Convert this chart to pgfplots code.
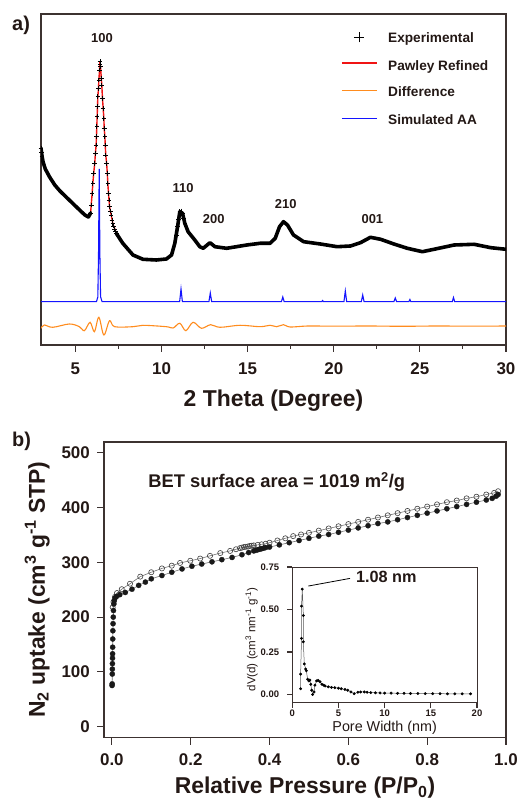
\documentclass[border=0pt]{standalone}
\usepackage{fontspec}
\setmainfont{Liberation Sans}
\usepackage{pgfplots}
\pgfplotsset{compat=1.18}
\definecolor{txt}{RGB}{35,24,21}
\definecolor{axc}{RGB}{60,50,48}
\definecolor{dorange}{RGB}{255,140,30}
\definecolor{sblue}{RGB}{20,20,255}
\definecolor{pred}{RGB}{240,20,20}
\pgfplotsset{
  /pgf/number format/assume math mode=true,
  every axis/.append style={
    axis line style={draw=axc, line width=1.2bp},
    every tick/.style={draw=axc, line width=1.1bp},
    tick align=outside,
  }
}
\begin{document}
\begin{tikzpicture}
\useasboundingbox (0bp,0bp) rectangle (518bp,800bp);
\node[anchor=base west, inner sep=0pt, font=\bfseries\fontsize{20}{20}\selectfont, text=txt] at (12bp,769bp) {a)};
\node[anchor=base west, inner sep=0pt, font=\bfseries\fontsize{20}{20}\selectfont, text=txt] at (12bp,353bp) {b)};

% ---------------- panel a ----------------
\begin{axis}[
  at={(41bp,455bp)}, anchor=south west, scale only axis,
  width=465bp, height=331bp,
  xmin=3, xmax=30, ymin=0, ymax=331,
  xtick={5,10,15,20,25,30}, minor x tick num=1, ytick=\empty,
  xtick pos=bottom,
  major tick length=7bp, minor tick length=4bp,
  xticklabel style={anchor=base, yshift=-23bp, inner sep=0pt, font=\bfseries\fontsize{17}{17}\selectfont, text=txt},
  xlabel={2 Theta (Degree)},
  xlabel style={at={(axis description cs:0.5,-0.1873)}, anchor=base, inner sep=0pt, font=\bfseries\fontsize{23}{23}\selectfont, text=txt},
]
% Pawley refined (red)
\addplot[pred, line width=1.4bp] coordinates {
(3.00,197)(3.05,190)(3.12,183)(3.25,176)(3.50,168)(3.80,160)(4.10,154)(4.40,149)(4.70,144)(5.00,139)(5.30,134)(5.55,130)(5.75,128)(5.88,132)
(5.97,151.7)(6.01,161.7)(6.06,171.7)(6.12,181.7)(6.16,191.7)(6.20,200)(6.22,208.3)(6.24,218.3)(6.26,228.3)(6.28,238.3)(6.30,248.3)(6.34,256.7)(6.36,265)(6.40,275)(6.42,283.3)
(6.46,278.3)(6.50,266.7)(6.53,260)(6.57,246.7)(6.61,236.7)(6.65,226.7)(6.67,216.7)(6.71,208.3)(6.73,200)(6.76,190)(6.81,181.7)(6.85,171.7)(6.88,161.7)(6.92,151.7)
(6.98,138.3)(7.17,121.7)(7.37,111.7)(7.75,101.7)(8.34,90)(8.92,85.7)(9.70,85)(10.28,86)(10.58,90)(10.77,101.7)(10.93,118.3)(11.06,133.3)(11.22,131.7)(11.35,121.7)(11.54,113.3)(11.93,105)(12.22,98.3)(12.42,96.7)(12.81,102.3)(13.10,98.3)(13.78,96.7)(14.95,100)(15.72,101.7)(16.30,101.7)(16.60,106.7)(16.85,118.3)(17.08,123.3)(17.31,120)(17.66,110)(18.25,103.3)(19.22,101)(20.19,98.3)(20.97,99)(21.55,102.3)(22.13,107.7)(22.72,105.7)(23.49,101)(24.27,96.7)(25.14,93.3)(25.82,95.7)(26.99,100)(28.15,100.7)(29.12,97.3)(30.00,95.7)
};
% Experimental: dense band
\addplot[black, line width=3.6bp, line join=round, line cap=round] coordinates {
(3.00,197)(3.05,190)(3.12,183)(3.25,176)(3.50,168)(3.80,160)(4.10,154)(4.40,149)(4.70,144)(5.00,139)(5.30,134)(5.55,130)(5.75,128)(5.88,132)
};
\addplot[black, line width=3.6bp, line join=round, line cap=round] coordinates {
(7.37,111.7)(7.75,101.7)(8.34,90)(8.92,85.7)(9.70,85)(10.28,86)(10.58,90)(10.77,101.7)(10.93,118.3)(11.06,133.3)(11.22,131.7)(11.35,121.7)(11.54,113.3)(11.93,105)(12.22,98.3)(12.42,96.7)(12.81,102.3)(13.10,98.3)(13.78,96.7)(14.95,100)(15.72,101.7)(16.30,101.7)(16.60,106.7)(16.85,118.3)(17.08,123.3)(17.31,120)(17.66,110)(18.25,103.3)(19.22,101)(20.19,98.3)(20.97,99)(21.55,102.3)(22.13,107.7)(22.72,105.7)(23.49,101)(24.27,96.7)(25.14,93.3)(25.82,95.7)(26.99,100)(28.15,100.7)(29.12,97.3)(30.00,95.7)
};
% Experimental: crosses on the 100 peak
\addplot[black, only marks, mark=+, mark size=2.3bp, mark options={line width=0.8bp}] coordinates {
(3.00,197)(3.03,193)(3.06,189)(5.88,132)(5.93,140)
(5.97,151.7)(6.01,161.7)(6.06,171.7)(6.12,181.7)(6.16,191.7)(6.20,200)(6.22,208.3)(6.24,218.3)(6.26,228.3)(6.28,238.3)(6.30,248.3)(6.34,256.7)(6.36,265)(6.40,275)(6.42,283.3)(6.43,281)
(6.46,278.3)(6.50,266.7)(6.53,260)(6.57,246.7)(6.61,236.7)(6.65,226.7)(6.67,216.7)(6.71,208.3)(6.73,200)(6.76,190)(6.81,181.7)(6.85,171.7)(6.88,161.7)(6.92,151.7)
(6.95,145)(6.98,138.3)(7.02,134)(7.07,130)(7.12,125)(7.17,121.7)(7.22,119)(7.27,116)(7.32,114)(7.37,111.7)
(10.86,110)(10.93,118.3)(10.99,126)(11.06,133.3)(11.14,134)(11.22,131.7)(11.28,127)(11.35,121.7)
};
% Difference (orange)
\addplot[dorange, line width=1.1bp, smooth, tension=0.55] coordinates {
(3.00,16.7)(3.19,20)(3.68,17.7)(4.65,21)(5.23,18.3)(5.52,14.3)(5.85,22.7)(6.10,13.3)(6.36,27.7)(6.65,10)(6.98,24.3)(7.27,18.3)(8.34,18.3)(8.92,19.7)(10.28,18.3)(10.67,17)(11.06,21.7)(11.41,14.3)(11.83,22.7)(12.32,16.7)(12.85,20.3)(13.39,17.7)(14.56,19.7)(15.72,18.3)(16.30,19.7)(16.69,18.3)(17.08,20.3)(17.47,18)(18.5,19)(20,18.8)(22,19)(24,18.7)(26,19)(28,18.8)(30,19)
};
% Simulated AA (blue)
\addplot[sblue, line width=1.1bp] coordinates {
(3,43.3)(6.22,43.3)(6.30,48)(6.34,90)(6.38,176)(6.42,90)(6.46,48)(6.55,43.3)
(11.05,43.3)(11.13,56)(11.21,43.3)(12.75,43.3)(12.83,52)(12.91,43.3)(16.96,43.3)(17.04,48)(17.12,43.3)
(19.3,43.3)(19.35,44.5)(19.4,43.3)(20.59,43.3)(20.67,54)(20.75,43.3)(21.60,43.3)(21.68,50)(21.76,43.3)
(23.49,43.3)(23.57,47)(23.65,43.3)(24.36,43.3)(24.42,45.5)(24.48,43.3)(26.88,43.3)(26.95,47.5)(27.02,43.3)(30,43.3)
};
% legend (drawn by hand)
\draw[black, line width=0.9bp] (axis description cs:0.6731,0.9295) -- (axis description cs:0.6946,0.9295)
  (axis description cs:0.6839,0.9144) -- (axis description cs:0.6839,0.9446);
\draw[pred, line width=1.5bp] (axis description cs:0.6473,0.8514) -- (axis description cs:0.7226,0.8514);
\draw[dorange, line width=1.5bp] (axis description cs:0.6473,0.7683) -- (axis description cs:0.7226,0.7683);
\draw[sblue, line width=1.5bp] (axis description cs:0.6473,0.6848) -- (axis description cs:0.7226,0.6848);
\begin{scope}[every node/.style={anchor=base west, inner sep=0pt, font=\bfseries\fontsize{13.7}{13.7}\selectfont, text=txt}]
\node at (axis description cs:0.7462,0.9144) {Experimental};
\node at (axis description cs:0.7462,0.8298) {Pawley Refined};
\node at (axis description cs:0.7462,0.7495) {Difference};
\node at (axis description cs:0.7462,0.6666) {Simulated AA};
\end{scope}
\node[font=\bfseries\fontsize{13}{13}\selectfont, text=txt] at (axis cs:6.54,307) {100};
\node[font=\bfseries\fontsize{13}{13}\selectfont, text=txt] at (axis cs:11.25,157) {110};
\node[font=\bfseries\fontsize{13}{13}\selectfont, text=txt] at (axis cs:13.03,126) {200};
\node[font=\bfseries\fontsize{13}{13}\selectfont, text=txt] at (axis cs:17.21,141) {210};
\node[font=\bfseries\fontsize{13}{13}\selectfont, text=txt] at (axis cs:22.24,126) {001};
\end{axis}

% ---------------- panel b ----------------
\begin{axis}[
  at={(104bp,62.5bp)}, anchor=south west, scale only axis,
  width=402bp, height=295.5bp,
  xmin=-0.02, xmax=1.0, ymin=-20, ymax=520,
  xtick={0,0.2,0.4,0.6,0.8,1.0}, ytick={0,100,200,300,400,500},
  xtick pos=bottom, ytick pos=left,
  major tick length=7bp,
  xticklabel style={anchor=base, yshift=-20.5bp, inner sep=0pt, font=\bfseries\fontsize{17}{17}\selectfont, text=txt,
    /pgf/number format/.cd, fixed, fixed zerofill, precision=1},
  yticklabel style={anchor=east, xshift=-7bp, inner sep=0pt, font=\bfseries\fontsize{17}{17}\selectfont, text=txt},
  xlabel={Relative Pressure (P/P\textsubscript{0})},
  xlabel style={at={(axis description cs:0.5,-0.189)}, anchor=base, inner sep=0pt, font=\bfseries\fontsize{23}{23}\selectfont, text=txt},
  ylabel={N\textsubscript{2} uptake (cm\textsuperscript{3} g\textsuperscript{-1} STP)},
  ylabel style={at={(axis description cs:-0.1468,0.5)}, anchor=base, inner sep=0pt, font=\bfseries\fontsize{23}{23}\selectfont, text=txt},
]
% desorption (open)
\addplot[black!55, line width=0.6bp, mark=o, mark size=2.6bp, mark options={fill=white, draw=black!75, line width=0.6bp}] coordinates {
(0.002,218)(0.004,228)(0.008,237)(0.013,244)(0.025,251)(0.046,261)(0.072,274)(0.10,282)(0.127,289)(0.152,294)(0.173,299)(0.199,303)(0.224,307)(0.249,312)(0.275,317)(0.30,321)
(0.315,324)(0.325,326)(0.33,327)(0.335,328)(0.34,328.5)(0.345,329)(0.35,330)(0.355,330.5)(0.36,331)(0.37,332)(0.38,333)(0.39,334)
(0.40,336)(0.42,340)(0.44,344)(0.46,348)(0.48,351)(0.50,354)(0.525,358)(0.55,362)(0.575,366)(0.60,370)(0.625,374)(0.65,378)(0.675,382)(0.70,386)(0.725,390)(0.75,394)(0.775,398)(0.80,402)(0.825,406)(0.85,410)(0.875,413)(0.90,417)(0.925,420)(0.95,424)(0.97,427)(0.98,430)
};
% adsorption (filled)
\addplot[black!55, line width=0.6bp, mark=*, mark size=2.6bp, mark options={fill=black!90, draw=black!90, line width=0.3bp}] coordinates {
(0.0005,75)(0.0007,78)(0.001,96)(0.0012,105)(0.0014,115)(0.0016,125)(0.0018,133)(0.002,145)(0.0022,160)(0.0025,175)(0.003,188)(0.0035,200)(0.004,212)(0.005,224)(0.006,230)(0.008,235)(0.012,238)(0.02,241)
(0.034,245)(0.051,251)(0.068,258)(0.085,264)(0.10,270)(0.127,276)(0.152,282)(0.178,288)(0.203,293)(0.228,297)(0.254,301)(0.279,305)(0.305,309)(0.33,314)(0.347,318)(0.36,321)(0.365,322)(0.37,323)(0.375,324)(0.38,325)(0.385,326)(0.39,327)
(0.40,328)(0.425,332)(0.45,336)(0.475,340)(0.50,344)(0.525,348)(0.55,351)(0.575,355)(0.60,359)(0.625,363)(0.65,367)(0.675,371)(0.70,374)(0.725,378)(0.75,382)(0.775,386)(0.80,390)(0.825,394)(0.85,398)(0.875,402)(0.90,406)(0.925,410)(0.95,414)(0.965,417)(0.975,421)(0.98,424)
};
\node[anchor=base west, inner sep=0pt, font=\bfseries\fontsize{18.4}{18.4}\selectfont, text=txt] at (axis cs:0.092,437) {BET surface area = 1019 m\textsuperscript{2}/g};
\end{axis}

% ---------------- inset ----------------
\begin{axis}[
  at={(292.3bp,97bp)}, anchor=south west, scale only axis,
  width=184.7bp, height=136bp,
  xmin=0, xmax=20, ymin=-0.05, ymax=0.75,
  xtick={0,5,10,15,20}, ytick={0,0.25,0.5,0.75},
  xtick pos=bottom, ytick pos=left,
  major tick length=5bp,
  axis line style={draw=axc, line width=1bp},
  axis background/.style={fill=white},
  xticklabel style={anchor=base, yshift=-8.7bp, inner sep=0pt, font=\bfseries\fontsize{9.5}{9.5}\selectfont, text=txt},
  yticklabel style={anchor=east, xshift=-8bp, inner sep=0pt, font=\bfseries\fontsize{9.5}{9.5}\selectfont, text=txt,
    /pgf/number format/.cd, fixed, fixed zerofill, precision=2},
  xlabel={Pore Width (nm)},
  xlabel style={at={(axis description cs:0.5,-0.211)}, anchor=base, inner sep=0pt, font=\fontsize{14.4}{14.4}\selectfont, text=txt},
  ylabel={dV(d) (cm\textsuperscript{3} nm\textsuperscript{-1} g\textsuperscript{-1})},
  ylabel style={at={(axis description cs:-0.2,0.467)}, anchor=base, inner sep=0pt, font=\fontsize{11.6}{11.6}\selectfont, text=txt},
]
\addplot[black!65, line width=0.5bp, mark=*, mark size=1.2bp, mark options={fill=black, draw=black}] coordinates {
(0.90,0.034)(0.90,0.12)(1.00,0.33)(1.00,0.52)(1.08,0.62)(1.20,0.465)(1.19,0.31)(1.30,0.18)(1.45,0.15)(1.52,0.14)(1.66,0.09)(1.80,0.08)(1.90,0.085)(2.00,0.06)(2.10,0.025)(2.20,0.00)(2.35,0.015)(2.45,0.055)(2.63,0.08)(2.80,0.083)(3.00,0.075)(3.20,0.06)(3.40,0.055)(3.55,0.05)(3.90,0.045)(4.25,0.042)(4.60,0.040)(5.00,0.037)(5.30,0.034)(5.70,0.030)(6.00,0.025)(6.35,0.015)(6.70,0.005)(7.10,0.013)(7.40,0.015)(7.80,0.015)(8.10,0.013)(8.50,0.011)(9.00,0.010)(9.50,0.009)(10.0,0.008)(10.7,0.008)(11.4,0.007)(12.1,0.007)(12.8,0.006)(13.6,0.006)(14.4,0.005)(15.2,0.005)(16.0,0.005)(16.8,0.004)(17.6,0.004)(18.4,0.004)(19.3,0.004)
};
\draw[black, line width=0.8bp] (axis cs:1.73,0.638) -- (axis cs:6.25,0.683);
\node[anchor=base west, inner sep=0pt, font=\bfseries\fontsize{16.3}{16.3}\selectfont, text=txt] at (axis cs:6.89,0.657) {1.08 nm};
\end{axis}
\end{tikzpicture}
\end{document}
